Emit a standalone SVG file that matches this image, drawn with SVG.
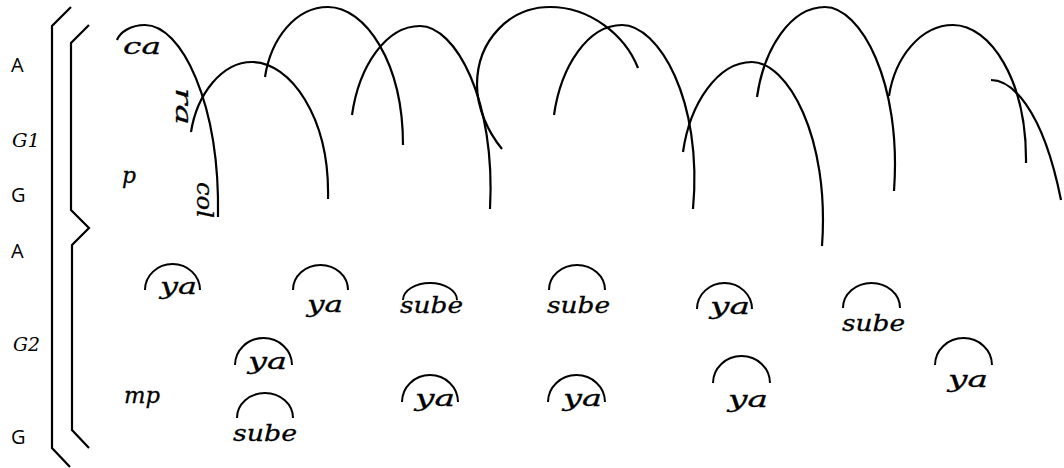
<svg xmlns="http://www.w3.org/2000/svg" width="1064" height="468" viewBox="0 0 1064 468">
<style>
.ln{fill:none;stroke:#000;stroke-width:2.2;stroke-linecap:butt;stroke-linejoin:miter}
.sm{fill:none;stroke:#000;stroke-width:2}
.lab{font-family:"Open Sans","DejaVu Sans",sans-serif;font-size:20px;fill:#000}
.glab{font-family:"DejaVu Serif","Liberation Serif",serif;font-style:italic;font-size:19px;fill:#000}
.w{font-family:"DejaVu Serif","Liberation Serif",serif;font-style:italic;font-size:23px;fill:#000;stroke:#000;stroke-width:0.3}
</style>
<rect width="1064" height="468" fill="#fff"/>
<g id="labels">
<text class="lab" x="11" y="72">A</text>
<text class="glab" x="12" y="147" textLength="28" lengthAdjust="spacingAndGlyphs">G1</text>
<text class="lab" x="11" y="202">G</text>
<text class="lab" x="11" y="258">A</text>
<text class="glab" x="13" y="351" textLength="27" lengthAdjust="spacingAndGlyphs">G2</text>
<text class="lab" x="11" y="444">G</text>
</g>
<g id="brackets">
<path class="ln" d="M71,7 L52,26 L52,448 L70,467"/>
<path class="ln" d="M89,25 L71,43 L71,210 L89,228 L72,245 L72,430 L89,448"/>
</g>
<g id="connectors">
<path class="ln" d="M117,40 C120,32 131,25 145,25 C181,25 220,102 218,217"/>
<path class="ln" d="M191,132 C197,94 222,62 252,62 C290,62 330,117 328,199"/>
<path class="ln" d="M265,77 C271,38 296,7 328,7 C365,7 403,62 403,145"/>
<path class="ln" d="M352,115 C359,66 386,26 420,26 C455,26 496,99 490,209"/>
<path class="ln" d="M502,149 C488,132 477,108 477,85 C477,40 510,7 550,7 C590,7 625,35 638,68"/>
<path class="ln" d="M554,115 C561,66 588,25 622,25 C658,25 703,99 693,209"/>
<path class="ln" d="M683,152 C690,103 718,62 752,62 C787,62 830,136 822,246"/>
<path class="ln" d="M757,97 C764,48 791,7 825,7 C860,7 902,81 894,191"/>
<path class="ln" d="M889,96 C895,57 921,25 953,25 C990,25 1027,80 1026,163"/>
<path class="ln" d="M991,80 C1010,80 1042,105 1061,200"/>
</g>
<g id="g1-words">
<text class="w" x="123" y="54" textLength="38" lengthAdjust="spacingAndGlyphs">ca</text>
<text class="w" transform="translate(176,88) rotate(90)" x="0" y="0" textLength="37" lengthAdjust="spacingAndGlyphs">ra</text>
<text class="w" x="122" y="183" textLength="14" lengthAdjust="spacingAndGlyphs">p</text>
<text class="w" transform="translate(197,182) rotate(90)" x="0" y="0" textLength="36" lengthAdjust="spacingAndGlyphs">col</text>
</g>
<g id="mp"><text class="w" x="124" y="403" textLength="36" lengthAdjust="spacingAndGlyphs">mp</text></g>
<g id="n1"><path class="sm" d="M145,290 A27.5,26 0 0 1 200,290"/><text class="w" x="160" y="294" textLength="37" lengthAdjust="spacingAndGlyphs">ya</text></g>
<g id="n2"><path class="sm" d="M293,290 A27.5,25 0 0 1 348,290"/><text class="w" x="307" y="312" textLength="36" lengthAdjust="spacingAndGlyphs">ya</text></g>
<g id="n3"><path class="sm" d="M403,300 A27,17 0 0 1 457,300"/><text class="w" x="400" y="313" textLength="63" lengthAdjust="spacingAndGlyphs">sube</text></g>
<g id="n4"><path class="sm" d="M549,290 A28,25 0 0 1 605,290"/><text class="w" x="547" y="313" textLength="63" lengthAdjust="spacingAndGlyphs">sube</text></g>
<g id="n5"><path class="sm" d="M697,309 A27.5,26 0 0 1 752,309"/><text class="w" x="710" y="314" textLength="40" lengthAdjust="spacingAndGlyphs">ya</text></g>
<g id="n6"><path class="sm" d="M843,308 A28.5,25 0 0 1 900,308"/><text class="w" x="842" y="331" textLength="63" lengthAdjust="spacingAndGlyphs">sube</text></g>
<g id="n7"><path class="sm" d="M935,365 A28.5,27 0 0 1 992,365"/><text class="w" x="948" y="387" textLength="40" lengthAdjust="spacingAndGlyphs">ya</text></g>
<g id="n8"><path class="sm" d="M235,365 A28.5,27 0 0 1 292,365"/><text class="w" x="248" y="369" textLength="39" lengthAdjust="spacingAndGlyphs">ya</text></g>
<g id="n9"><path class="sm" d="M237,418 A28,25 0 0 1 293,418"/><text class="w" x="233" y="441" textLength="64" lengthAdjust="spacingAndGlyphs">sube</text></g>
<g id="n10"><path class="sm" d="M402,402 A28,27 0 0 1 458,402"/><text class="w" x="415" y="406" textLength="40" lengthAdjust="spacingAndGlyphs">ya</text></g>
<g id="n11"><path class="sm" d="M548,402 A28.5,27 0 0 1 605,402"/><text class="w" x="563" y="406" textLength="39" lengthAdjust="spacingAndGlyphs">ya</text></g>
<g id="n12"><path class="sm" d="M713,383 A28.5,27 0 0 1 770,383"/><text class="w" x="728" y="407" textLength="40" lengthAdjust="spacingAndGlyphs">ya</text></g>
</svg>
